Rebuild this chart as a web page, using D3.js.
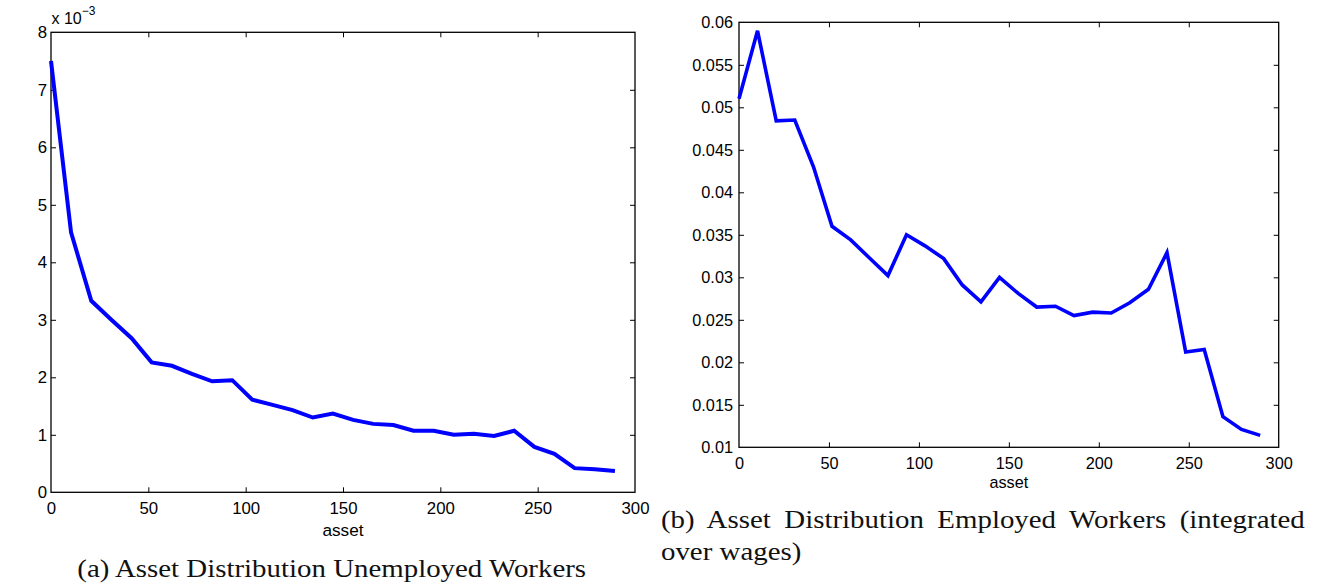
<!DOCTYPE html>
<html>
<head>
<meta charset="utf-8">
<script src="https://cdn.jsdelivr.net/npm/d3@7"></script>
<style>
  html, body { margin: 0; padding: 0; background: #fff; }
  svg { display: block; }
</style>
</head>
<body>
<svg id="chart" width="1321" height="586"></svg>
<script>
// ---------------- DATA ----------------
const asset = [0, 10.3, 20.7, 31.0, 41.4, 51.7, 62.1, 72.4, 82.8, 93.1, 103.4, 113.8, 124.1, 134.5, 144.8,
               155.2, 165.5, 175.9, 186.2, 196.6, 206.9, 217.2, 227.6, 237.9, 248.3, 258.6, 269.0, 279.3, 289.7];

// unemployed distribution, in units of 1e-3
const unemployed = [7.50, 4.52, 3.33, 3.00, 2.68, 2.26, 2.20, 2.06, 1.93, 1.95, 1.61, 1.52, 1.43, 1.30, 1.37,
                    1.26, 1.19, 1.17, 1.07, 1.07, 1.00, 1.02, 0.98, 1.07, 0.79, 0.67, 0.42, 0.40, 0.37];

const employed = [0.0510, 0.0590, 0.0484, 0.0485, 0.0430, 0.0360, 0.0344, 0.0323, 0.0302, 0.0350, 0.0337,
                  0.0322, 0.0291, 0.0271, 0.0300, 0.0281, 0.0265, 0.0266, 0.0255, 0.0259, 0.0258, 0.0270,
                  0.0286, 0.0329, 0.0212, 0.0215, 0.0136, 0.0121, 0.0114];

const xTicks = [0, 50, 100, 150, 200, 250, 300];
const xTickLabels = ["0", "50", "100", "150", "200", "250", "300"];
const yTicksA = [0, 1, 2, 3, 4, 5, 6, 7, 8];
const yTickLabelsA = ["0", "1", "2", "3", "4", "5", "6", "7", "8"];
const yTicksB = [0.01, 0.015, 0.02, 0.025, 0.03, 0.035, 0.04, 0.045, 0.05, 0.055, 0.06];
const yTickLabelsB = ["0.01", "0.015", "0.02", "0.025", "0.03", "0.035", "0.04", "0.045", "0.05", "0.055", "0.06"];

const xLabel = "asset";
const yLabelA = "distribution of unemployed workers";
const yLabelB = "distribution of employed workers";
const captionA = "(a) Asset Distribution Unemployed Workers";
const captionB1 = "(b) Asset Distribution Employed Workers (integrated";
const captionB2 = "over wages)";

// ---------------- DRAW ----------------
const svg = d3.select("#chart");
const SANS = "'Liberation Sans', Arial, Helvetica, sans-serif";
const SERIF = "'Liberation Serif', 'Times New Roman', serif";

function panel(cfg) {
  const x = d3.scaleLinear().domain([0, 300]).range([cfg.left, cfg.right]);
  const y = d3.scaleLinear().domain(cfg.yDomain).range([cfg.bottom, cfg.top]);
  const g = svg.append("g");
  const tl = 5;

  const xLab = (d) => cfg.xTickLabels[cfg.xTicks.indexOf(d)];
  const yLab = (d) => cfg.yTickLabels[cfg.yTicks.indexOf(d)];

  // bottom axis with labels, inward ticks
  const gb = g.append("g").attr("transform", `translate(0,${cfg.bottom})`)
    .call(d3.axisBottom(x).tickValues(cfg.xTicks).tickFormat(xLab).tickSize(-tl).tickPadding(cfg.xPad));
  // top axis, inward ticks, no labels
  const gt = g.append("g").attr("transform", `translate(0,${cfg.top})`)
    .call(d3.axisTop(x).tickValues(cfg.xTicks).tickFormat("").tickSize(-tl));
  // left axis with labels
  const gl = g.append("g").attr("transform", `translate(${cfg.left},0)`)
    .call(d3.axisLeft(y).tickValues(cfg.yTicks).tickFormat(yLab).tickSize(-tl).tickPadding(cfg.yPad));
  // right axis, no labels
  const gr = g.append("g").attr("transform", `translate(${cfg.right},0)`)
    .call(d3.axisRight(y).tickValues(cfg.yTicks).tickFormat("").tickSize(-tl));

  [gb, gt, gl, gr].forEach(a => {
    a.select(".domain").remove();
    a.selectAll(".tick line").attr("stroke", "#000").attr("stroke-width", 1);
    a.selectAll(".tick text").attr("fill", "#000")
      .style("font-family", SANS).style("font-size", cfg.tickFont + "px");
  });
  // hide the first/last inward x ticks that overlap the box
  [gb, gt].forEach(a => a.selectAll(".tick").filter(d => d === 0 || d === 300).select("line").remove());
  [gl, gr].forEach(a => a.selectAll(".tick").filter(d => d === cfg.yDomain[0] || d === cfg.yDomain[1]).select("line").remove());

  // box
  g.append("rect")
    .attr("x", cfg.left).attr("y", cfg.top)
    .attr("width", cfg.right - cfg.left).attr("height", cfg.bottom - cfg.top)
    .attr("fill", "none").attr("stroke", "#000").attr("stroke-width", 1.3);

  // line
  const line = d3.line().x((d, i) => x(asset[i])).y(d => y(d));
  g.append("path").datum(cfg.values)
    .attr("d", line)
    .attr("fill", "none").attr("stroke", "#0000ff")
    .attr("stroke-width", cfg.lineWidth)
    .attr("stroke-linejoin", "miter").attr("stroke-miterlimit", 4);

  // x label
  g.append("text").text(xLabel)
    .attr("x", (cfg.left + cfg.right) / 2).attr("y", cfg.xLabelY)
    .attr("text-anchor", "middle")
    .style("font-family", SANS).style("font-size", cfg.labelFont + "px");

  // y label
  g.append("text").text(cfg.yLabel)
    .attr("transform", `translate(${cfg.yLabelX},${cfg.yLabelCY}) rotate(-90)`)
    .attr("text-anchor", "middle")
    .style("font-family", SANS).style("font-size", cfg.yLabelFont + "px");

  return { g, x, y };
}

const A = panel({
  left: 51, right: 635, top: 32.3, bottom: 492.3,
  yDomain: [0, 8], values: unemployed,
  xTicks, xTickLabels, yTicks: yTicksA, yTickLabels: yTickLabelsA,
  tickFont: 16.8, labelFont: 17.2, yLabelFont: 17.8,
  xPad: 10, yPad: 4, lineWidth: 4,
  xLabelY: 536, yLabelX: 23.5, yLabelCY: 265
});

// exponent label
const ex = A.g.append("text").attr("x", 51.5).attr("y", 24)
  .style("font-family", SANS).style("font-size", "16px");
ex.append("tspan").text("x 10");
ex.append("tspan").text("\u22123").attr("dy", -9).style("font-size", "12px");

const B = panel({
  left: 739, right: 1278.7, top: 22.3, bottom: 447.3,
  yDomain: [0.01, 0.06], values: employed,
  xTicks, xTickLabels, yTicks: yTicksB, yTickLabels: yTickLabelsB,
  tickFont: 16.3, labelFont: 16.2, yLabelFont: 16.5,
  xPad: 10, yPad: 6, lineWidth: 3.6,
  xLabelY: 488.3, yLabelX: 682.5, yLabelCY: 238.5
});

// ---------------- CAPTIONS ----------------
const capFont = 25.5;
function capText(str, x, y) {
  return svg.append("text").text(str)
    .attr("x", 0).attr("y", 0)
    .attr("transform", `translate(${x},${y})`)
    .style("font-family", SERIF).style("font-size", capFont + "px").attr("fill", "#111");
}
const ca = capText(captionA, 77.3, 577);
const natA = ca.node().getComputedTextLength();
const sx = 509 / natA;
ca.attr("transform", `translate(77.3,577) scale(${sx},1)`);

const cb1 = capText(captionB1, 661, 528.3);
const natB1 = cb1.node().getComputedTextLength();
const nSpaces = (captionB1.match(/ /g) || []).length;
const ws = (644 / sx - natB1) / nSpaces;
cb1.style("word-spacing", ws + "px").attr("transform", `translate(661,528.3) scale(${sx},1)`);

const cb2 = capText(captionB2, 661, 560);
cb2.attr("transform", `translate(661,560) scale(${sx},1)`);
</script>
</body>
</html>
